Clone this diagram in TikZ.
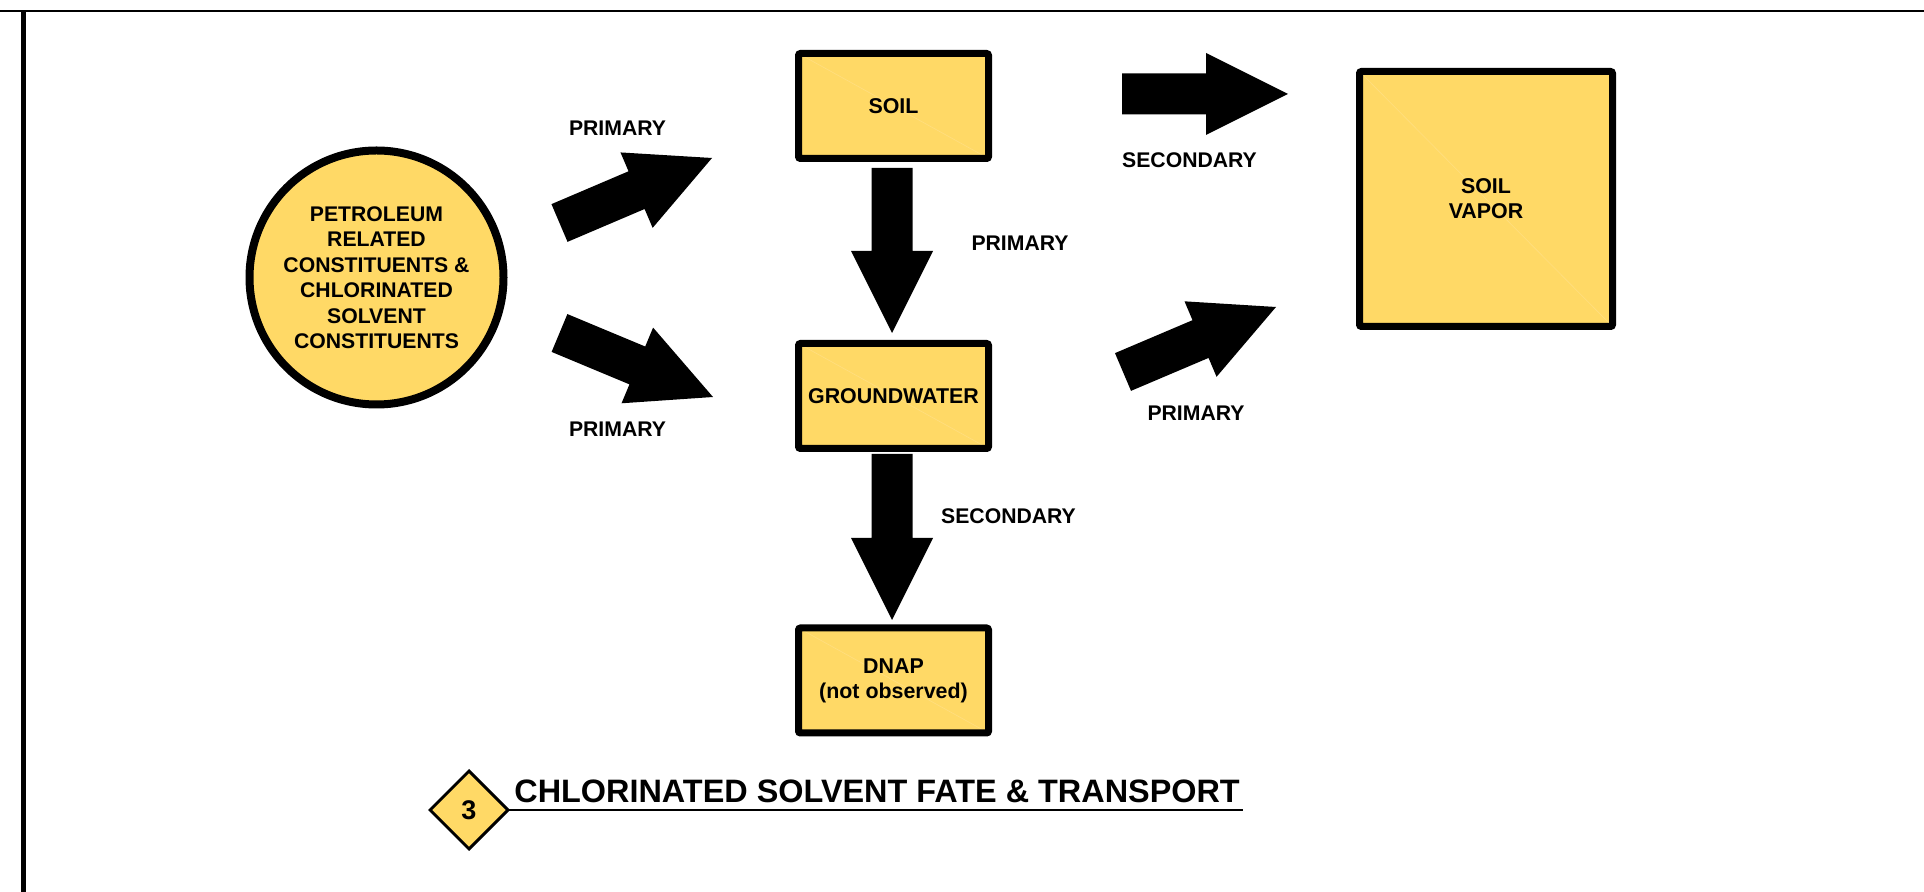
\documentclass[tikz,border=0pt]{standalone}
\usepackage{fontspec}
\setmainfont{Liberation Sans}
\usetikzlibrary{calc,shapes.geometric}
\definecolor{boxfill}{HTML}{FFD966}
\definecolor{diagline}{HTML}{FFDF80}
\tikzset{
  box/.style={draw=black, fill=boxfill, line width=3.5pt, rounded corners=1pt,
    minimum width=95pt, minimum height=52.5pt, inner sep=0pt, align=center,
    font=\fontsize{10.7}{12.5}\selectfont\bfseries,
    path picture={\draw[diagline, line width=0.3pt] (path picture bounding box.north west) -- (path picture bounding box.south east);}},
  srcnode/.style={circle, draw=black, fill=boxfill, line width=4pt, minimum size=127pt,
    inner sep=0pt, align=center, font=\fontsize{10.6}{12.75}\selectfont\bfseries},
  lbl/.style={font=\fontsize{10.6}{12.5}\selectfont\bfseries, inner sep=0pt},
  badgestyle/.style={diamond, aspect=1, draw=black, fill=boxfill, line width=1.5pt,
    minimum width=39.5pt, minimum height=39.5pt, inner sep=0pt,
    font=\fontsize{13.5}{13.5}\selectfont\bfseries},
  titlestyle/.style={anchor=base west, inner sep=0pt, font=\fontsize{16.2}{16.2}\selectfont\bfseries},
}
% block arrow from #1 (tail centre) to #2 (tip)
\newcommand\blockarrow[2]{%
  \coordinate (ba-h) at ($(#2)!41pt!(#1)$);
  \fill[black] ($(#1)!10.25pt!90:(#2)$) -- ($(ba-h)!10.25pt!90:(#2)$)
    -- ($(ba-h)!20.5pt!90:(#2)$) -- (#2) -- ($(ba-h)!20.5pt!-90:(#2)$)
    -- ($(ba-h)!10.25pt!-90:(#2)$) -- ($(#1)!10.25pt!-90:(#2)$) -- cycle;
}
\begin{document}
\begin{tikzpicture}[x=0.5pt, y=-0.5pt]
\useasboundingbox (0,0) rectangle (1924,892);
% frame
\draw[line width=1pt] (0,11) -- (1924,11);
\draw[line width=2.5pt] (23.5,11) -- (23.5,892);

% nodes
\node[srcnode] (src) at (376.5,277.5) {PETROLEUM\\RELATED\\CONSTITUENTS \&\\CHLORINATED\\SOLVENT\\CONSTITUENTS};
\node[box] (soil) at (893.5,106) {SOIL};
\node[box] (gw) at (893.5,396) {GROUNDWATER};
\node[box] (dnap) at (893.5,680.5) {DNAP\\(not observed)};
\node[box, minimum width=126.5pt, minimum height=127.5pt] (vapor) at (1486,199) {SOIL\\VAPOR};

% arrow end points
\coordinate (a1s) at (892,168);   \coordinate (a1e) at (892,333);
\coordinate (a2s) at (892,454);   \coordinate (a2e) at (892,620);
\coordinate (a3s) at (1122,94);   \coordinate (a3e) at (1288,94);
\coordinate (a4s) at (559.5,223); \coordinate (a4e) at (712,158);
\coordinate (a5s) at (559.5,333); \coordinate (a5e) at (713,397);
\coordinate (a6s) at (1123,372);  \coordinate (a6e) at (1276,307);
\blockarrow{a1s}{a1e}
\blockarrow{a2s}{a2e}
\blockarrow{a3s}{a3e}
\blockarrow{a4s}{a4e}
\blockarrow{a5s}{a5e}
\blockarrow{a6s}{a6e}

% labels
\node[lbl] (l1) at (617.5,128) {PRIMARY};
\node[lbl] (l2) at (617.5,429) {PRIMARY};
\node[lbl] (l3) at (1020,243) {PRIMARY};
\node[lbl] (l4) at (1189.5,160) {SECONDARY};
\node[lbl] (l5) at (1196,413) {PRIMARY};
\node[lbl] (l6) at (1008.5,516) {SECONDARY};

% title
\coordinate (ulend) at (1243,810);
\draw[line width=1pt] (469,810) -- (ulend);
\node[badgestyle] (badge) at (469,810) {3};
\node[titlestyle] (title) at (514,803) {CHLORINATED SOLVENT FATE \& TRANSPORT};
\end{tikzpicture}
\end{document}
